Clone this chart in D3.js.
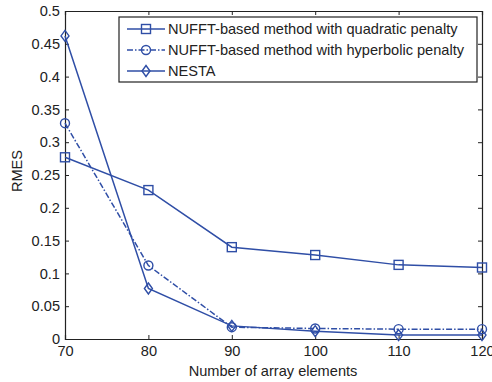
<!DOCTYPE html>
<html><head><meta charset="utf-8">
<script src="https://cdn.jsdelivr.net/npm/d3@7"></script>
<style>body{margin:0;background:#fff}svg{display:block}text{font-family:"Liberation Sans",Arial,sans-serif}</style>
</head><body>
<script>
const xValues = [70, 80, 90, 100, 110, 120];
const quadratic = [0.277, 0.227, 0.140, 0.128, 0.113, 0.109];
const hyperbolic = [0.329, 0.112, 0.018, 0.016, 0.015, 0.015];
const nesta = [0.462, 0.077, 0.020, 0.012, 0.006, 0.006];
const seriesNames = ["NUFFT-based method with quadratic penalty", "NUFFT-based method with hyperbolic penalty", "NESTA"];
const xTicks = [70, 80, 90, 100, 110, 120];
const yTicks = [0, 0.05, 0.1, 0.15, 0.2, 0.25, 0.3, 0.35, 0.4, 0.45, 0.5];

const W = 492, H = 382;
const m = {l: 65, r: 10, t: 11, b: 43};
const color = "#2f4ea6";
const svg = d3.select("body").append("svg").attr("width", W).attr("height", H);
const x = d3.scaleLinear().domain([70, 120]).range([m.l, W - m.r]);
const y = d3.scaleLinear().domain([0, 0.5]).range([H - m.b, m.t]);
const fs = 14.6;

const ax = svg.append("g");
ax.append("g").attr("transform", `translate(0,${H - m.b})`)
  .call(d3.axisBottom(x).tickValues(xTicks).tickSize(-4).tickPadding(7).tickFormat(d3.format("d")));
ax.append("g").attr("transform", `translate(0,${m.t})`)
  .call(d3.axisTop(x).tickValues(xTicks).tickSize(-4).tickFormat(""));
ax.append("g").attr("transform", `translate(${m.l},0)`)
  .call(d3.axisLeft(y).tickValues(yTicks).tickSize(-4).tickPadding(5).tickFormat(d => d3.format("")(+d.toFixed(2))));
ax.append("g").attr("transform", `translate(${W - m.r},0)`)
  .call(d3.axisRight(y).tickValues(yTicks).tickSize(-4).tickFormat(""));
ax.selectAll(".domain").attr("stroke", "#222").attr("stroke-width", 1.2);
ax.selectAll(".tick line").attr("stroke", "#222");
ax.selectAll("text").attr("font-size", fs).attr("fill", "#222").attr("font-family", "Liberation Sans, Arial, sans-serif");

svg.append("text").attr("x", 273).attr("y", 376).attr("text-anchor", "middle")
  .attr("font-size", fs).attr("fill", "#222").text("Number of array elements");
svg.append("text").attr("transform", `translate(22,171) rotate(-90)`).attr("text-anchor", "middle")
  .attr("font-size", fs).attr("fill", "#222").text("RMES");

const line = d3.line().x((d, i) => x(xValues[i])).y(d => y(d));
const series = [
  {vals: quadratic, dash: null, marker: "square"},
  {vals: hyperbolic, dash: "6,2,1.5,2", marker: "circle"},
  {vals: nesta, dash: null, marker: "diamond"}
];
function drawMarker(g, type, cx, cy) {
  if (type === "square") g.append("rect").attr("x", cx - 4.5).attr("y", cy - 4.5).attr("width", 9).attr("height", 9);
  else if (type === "circle") g.append("circle").attr("cx", cx).attr("cy", cy).attr("r", 4.5);
  else g.append("path").attr("d", `M${cx},${cy - 5.5}L${cx + 4},${cy}L${cx},${cy + 5.5}L${cx - 4},${cy}Z`);
}
const plot = svg.append("g");
series.forEach(s => {
  plot.append("path").datum(s.vals).attr("d", line).attr("fill", "none").attr("stroke", color)
    .attr("stroke-width", 1.5).attr("stroke-dasharray", s.dash);
  const mg = plot.append("g").attr("fill", "none").attr("stroke", color).attr("stroke-width", 1.4);
  s.vals.forEach((v, i) => drawMarker(mg, s.marker, x(xValues[i]), y(v)));
});

const lg = svg.append("g");
lg.append("rect").attr("x", 119).attr("y", 17).attr("width", 358).attr("height", 65)
  .attr("fill", "#fff").attr("stroke", "#222").attr("stroke-width", 1.2);
series.forEach((s, i) => {
  const yy = 29 + i * 21;
  lg.append("line").attr("x1", 127).attr("x2", 165).attr("y1", yy).attr("y2", yy)
    .attr("stroke", color).attr("stroke-width", 1.5).attr("stroke-dasharray", s.dash);
  const mg = lg.append("g").attr("fill", "none").attr("stroke", color).attr("stroke-width", 1.4);
  drawMarker(mg, s.marker, 146, yy);
  lg.append("text").attr("x", 168).attr("y", yy + 5).attr("font-size", fs).attr("fill", "#222").text(seriesNames[i]);
});
</script>
</body></html>
